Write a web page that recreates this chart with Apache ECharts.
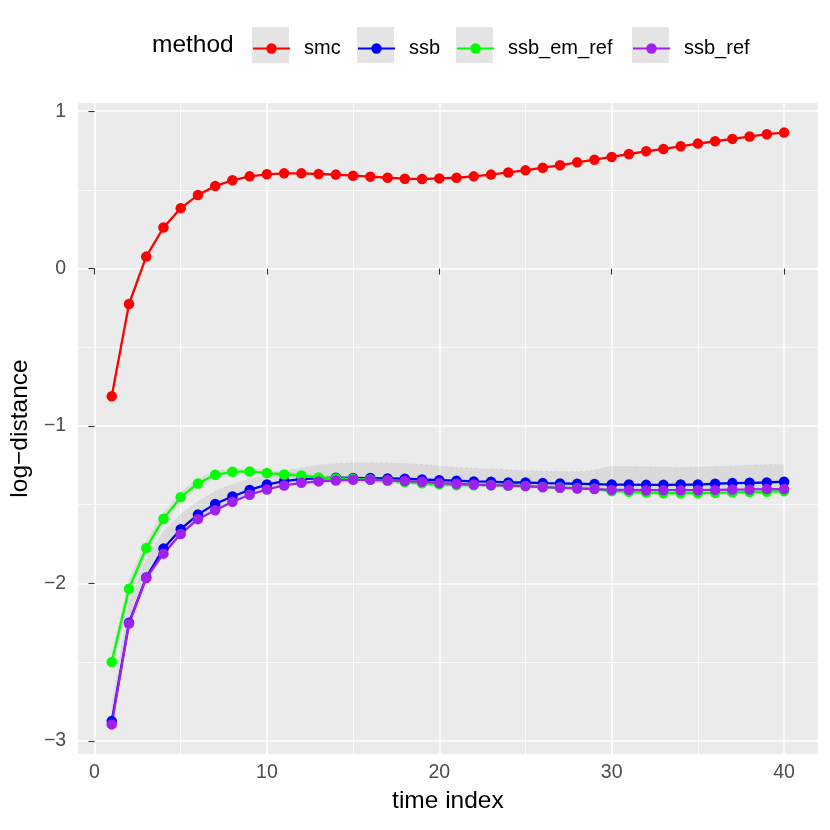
<!DOCTYPE html>
<html>
<head>
<meta charset="utf-8">
<script src="https://cdn.jsdelivr.net/npm/echarts@6/dist/echarts.min.js"></script>
<style>
  html, body { margin: 0; padding: 0; background: #fff; }
  #chart { width: 830px; height: 830px; }
</style>
</head>
<body>
<div id="chart"></div>
<script>
// values, time index 1..40
var methods = ['smc', 'ssb', 'ssb_em_ref', 'ssb_ref'];
var colors = ['#FF0000', '#0000FF', '#00FF00', '#A020F0'];

var smc = [-0.811, -0.225, 0.076, 0.261, 0.384, 0.467, 0.524, 0.561, 0.586, 0.599,
  0.605, 0.605, 0.601, 0.597, 0.590, 0.584, 0.577, 0.571, 0.569, 0.573,
  0.577, 0.586, 0.597, 0.611, 0.624, 0.641, 0.656, 0.675, 0.692, 0.709,
  0.728, 0.745, 0.760, 0.777, 0.794, 0.809, 0.824, 0.839, 0.854, 0.864];
var ssb = [-2.875, -2.250, -1.962, -1.779, -1.656, -1.563, -1.495, -1.448, -1.406, -1.372,
  -1.350, -1.338, -1.333, -1.329, -1.330, -1.331, -1.333, -1.335, -1.340, -1.344,
  -1.348, -1.352, -1.354, -1.359, -1.359, -1.363, -1.365, -1.367, -1.369, -1.372,
  -1.372, -1.374, -1.374, -1.372, -1.372, -1.367, -1.363, -1.361, -1.359, -1.354];
var ssbEmRef = [-2.499, -2.034, -1.775, -1.590, -1.452, -1.365, -1.310, -1.291, -1.289, -1.299,
  -1.308, -1.315, -1.327, -1.333, -1.336, -1.340, -1.346, -1.356, -1.364, -1.371,
  -1.376, -1.376, -1.376, -1.378, -1.382, -1.387, -1.391, -1.395, -1.399, -1.414,
  -1.418, -1.423, -1.427, -1.427, -1.427, -1.425, -1.422, -1.420, -1.418, -1.414];
var ssbRef = [-2.896, -2.255, -1.966, -1.811, -1.686, -1.592, -1.535, -1.482, -1.437, -1.403,
  -1.378, -1.361, -1.352, -1.346, -1.342, -1.342, -1.346, -1.350, -1.354, -1.363,
  -1.367, -1.372, -1.376, -1.378, -1.382, -1.389, -1.393, -1.397, -1.401, -1.406,
  -1.406, -1.408, -1.408, -1.408, -1.408, -1.406, -1.404, -1.403, -1.401, -1.401];

// grey ribbons (lower / upper edge)
var ssbLo = [-2.93, -2.30, -2.01, -1.82, -1.70, -1.60, -1.53, -1.48, -1.44, -1.40,
  -1.38, -1.37, -1.365, -1.36, -1.36, -1.362, -1.364, -1.367, -1.372, -1.376,
  -1.38, -1.384, -1.387, -1.39, -1.392, -1.395, -1.397, -1.399, -1.40, -1.403,
  -1.404, -1.405, -1.405, -1.404, -1.404, -1.40, -1.397, -1.395, -1.393, -1.39];
var ssbHi = [-2.78, -2.12, -1.84, -1.67, -1.56, -1.48, -1.415, -1.37, -1.335, -1.31,
  -1.285, -1.265, -1.248, -1.238, -1.234, -1.233, -1.234, -1.238, -1.245, -1.255,
  -1.262, -1.268, -1.274, -1.278, -1.283, -1.287, -1.288, -1.29, -1.28, -1.256,
  -1.257, -1.259, -1.261, -1.262, -1.26, -1.258, -1.255, -1.25, -1.245, -1.244];
var emLo = [-2.56, -2.09, -1.82, -1.63, -1.485, -1.395, -1.335, -1.312, -1.308, -1.318,
  -1.325, -1.33, -1.344, -1.348, -1.35, -1.354, -1.36, -1.37, -1.378, -1.385,
  -1.39, -1.39, -1.39, -1.392, -1.396, -1.40, -1.404, -1.408, -1.412, -1.428,
  -1.432, -1.437, -1.441, -1.441, -1.441, -1.439, -1.436, -1.434, -1.432, -1.428];
var emHi = [-2.44, -1.98, -1.73, -1.55, -1.42, -1.335, -1.285, -1.27, -1.27, -1.28,
  -1.292, -1.30, -1.31, -1.318, -1.322, -1.326, -1.332, -1.342, -1.35, -1.357,
  -1.362, -1.363, -1.363, -1.365, -1.369, -1.374, -1.378, -1.382, -1.386, -1.40,
  -1.404, -1.409, -1.413, -1.413, -1.413, -1.411, -1.408, -1.406, -1.404, -1.40];

var xTicks = [0, 10, 20, 30, 40];
var xMinor = [5, 15, 25, 35];
var yTicks = [-3, -2, -1, 0, 1];
var yMinor = [-2.5, -1.5, -0.5, 0.5];

var values = [smc, ssb, ssbEmRef, ssbRef];
var bands = [[ssbLo, ssbHi, 'rgba(0,0,255,0.13)'], [emLo, emHi, 'rgba(0,200,0,0.13)']];

function pairs(arr) {
  return arr.map(function(v, i) { return [i + 1, v]; });
}
function minus(v) {
  return v < 0 ? '\u2212' + (-v) : String(v);
}

var chart = echarts.init(document.getElementById('chart'));

var series = [];
// ribbons drawn as one polygon each, through the axis scales
bands.forEach(function(b) {
  series.push({
    type: 'custom', silent: true, z: 1, clip: true,
    data: [[1, b[0][0]]],
    renderItem: function(params, api) {
      var upper = b[1].map(function(v, i) { return api.coord([i + 1, v]); });
      var lower = b[0].map(function(v, i) { return api.coord([i + 1, v]); }).reverse();
      return {
        type: 'group',
        children: [{
          type: 'polygon',
          shape: { points: upper.concat(lower) },
          style: { fill: 'rgba(120,120,120,0.14)' }
        }, {
          type: 'polyline',
          shape: { points: upper },
          style: { fill: null, stroke: b[2], lineWidth: 1, lineDash: [1, 4] }
        }, {
          type: 'polyline',
          shape: { points: lower.slice().reverse() },
          style: { fill: null, stroke: b[2], lineWidth: 1, lineDash: [1, 4] }
        }]
      };
    }
  });
});
methods.forEach(function(m, i) {
  series.push({
    name: m, type: 'line', data: pairs(values[i]), z: 3,
    symbol: 'circle', symbolSize: 10.5, showSymbol: true,
    lineStyle: { color: colors[i], width: 2.3 },
    itemStyle: { color: colors[i] }
  });
});

var keyX = [252, 357, 456, 632];
var legends = methods.map(function(m, i) {
  return {
    data: [m], left: keyX[i], top: 38.5, padding: 0,
    itemWidth: 37, itemHeight: 13, selectedMode: false,
    textStyle: { fontSize: 20, color: '#000', padding: [0, 0, 0, 9] }
  };
});
var keyBoxes = keyX.map(function(x) {
  return { type: 'rect', shape: { x: x, y: 27, width: 37, height: 36 }, style: { fill: '#E4E4E4' }, z: -1 };
});
keyBoxes.push({
  type: 'text', x: 152, y: 45, z: 5,
  style: { text: 'method', fontSize: 24.5, fill: '#000', verticalAlign: 'middle', fontFamily: 'Liberation Sans' }
});

var axisTickStyle = { show: true, length: 6, lineStyle: { color: '#333333', width: 1.1 } };

chart.setOption({
  animation: false,
  textStyle: { fontFamily: 'Liberation Sans, Arial, sans-serif' },
  grid: { left: 78, right: 12.3, top: 103, bottom: 76, show: true, backgroundColor: '#EBEBEB', borderWidth: 0 },
  legend: legends,
  graphic: keyBoxes,
  xAxis: [{
    type: 'value', min: -0.95, max: 41.95,
    axisLine: { show: false },
    axisTick: Object.assign({ customValues: xTicks }, axisTickStyle),
    axisLabel: { customValues: xTicks, fontSize: 19.5, color: '#4D4D4D', margin: 9, formatter: minus },
    splitLine: { show: true, lineStyle: { color: '#FFFFFF', width: 1.6 } },
    name: 'time index', nameLocation: 'middle', nameGap: 35,
    nameTextStyle: { fontSize: 24.5, color: '#000' }
  }, {
    type: 'value', min: -0.95, max: 41.95, position: 'top',
    axisLine: { show: false }, axisLabel: { show: false },
    axisTick: { show: false, customValues: xMinor },
    splitLine: { show: true, lineStyle: { color: '#FFFFFF', width: 0.8 } }
  }],
  yAxis: [{
    type: 'value', min: -3.084, max: 1.052,
    axisLine: { show: false },
    axisTick: Object.assign({ customValues: yTicks }, axisTickStyle),
    axisLabel: { customValues: yTicks, fontSize: 19.5, color: '#4D4D4D', margin: 12, formatter: minus },
    splitLine: { show: true, lineStyle: { color: '#FFFFFF', width: 1.6 } },
    name: 'log\u2212distance', nameLocation: 'middle', nameGap: 40, nameRotate: 90,
    nameTextStyle: { fontSize: 24.5, color: '#000' }
  }, {
    type: 'value', min: -3.084, max: 1.052, position: 'right',
    axisLine: { show: false }, axisLabel: { show: false },
    axisTick: { show: false, customValues: yMinor },
    splitLine: { show: true, lineStyle: { color: '#FFFFFF', width: 0.8 } }
  }],
  series: series
});
</script>
</body>
</html>
